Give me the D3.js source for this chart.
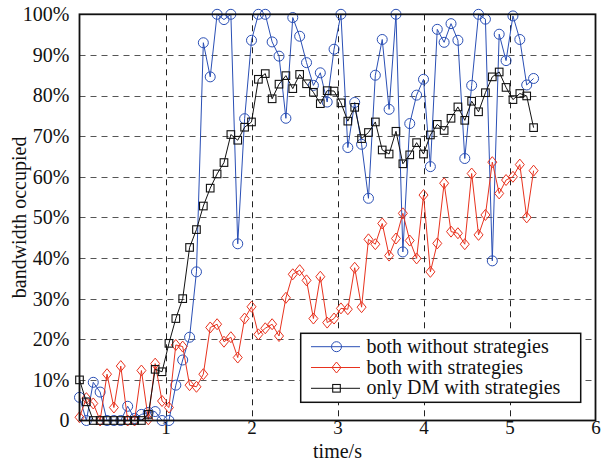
<!DOCTYPE html>
<html>
<head>
<meta charset="utf-8">
<script src="https://cdn.jsdelivr.net/npm/d3@7"></script>
<style>
  html, body { margin: 0; padding: 0; background: #fff; }
</style>
</head>
<body>
<svg id="chart" width="601" height="461"></svg>
<script>
const times = [0,0.08,0.16,0.24,0.32,0.40,0.48,0.56,0.64,0.72,0.80,0.88,0.96,1.04,1.12,1.20,1.28,1.36,1.44,1.52,1.60,1.68,1.76,1.84,1.92,2.00,2.08,2.16,2.24,2.32,2.40,2.48,2.56,2.64,2.72,2.80,2.88,2.96,3.04,3.12,3.20,3.28,3.36,3.44,3.52,3.60,3.68,3.76,3.84,3.92,4.00,4.08,4.16,4.24,4.32,4.40,4.48,4.56,4.64,4.72,4.80,4.88,4.96,5.04,5.12,5.20,5.28];

const bothWithout = [5.7,0,9.4,7.0,0,0,0,3.5,0.5,1.5,2.0,2.2,0,0,8.7,14.9,20.5,36.6,
  93.0,84.6,100,98.7,100,43.5,74.3,93.6,100,100,93.2,89.7,74.4,99.2,94.6,88.1,
  82.5,85.6,78.4,91.4,100,67.2,78.3,68.0,54.7,85.0,93.8,76.6,100,41.5,73.1,80.1,84.0,
  62.5,96.3,93.1,97.7,93.6,64.5,82.5,100,98.8,39.3,95.1,88.6,99.6,93.8,82.6,84.2];

const bothWith = [0.8,5.5,4.2,0,11.4,3.2,13.4,0,0,12.3,0.3,14.0,4.8,3.2,18.6,18.2,8.7,8.3,
  11.4,22.9,23.7,19.4,20.5,15.5,25.1,28.0,21.2,22.7,23.7,20.8,30.2,36.0,37.0,34.5,
  25.1,35.4,24.1,25.1,27.6,27.4,37.6,27.9,44.6,43.4,48.5,40.6,44.8,51.0,44.3,39.9,55.5,
  36.6,43.6,58.4,46.5,46.1,43.4,60.8,45.7,50.6,63.6,55.9,59.2,60.0,63.0,50.0,61.5];

const onlyDM = [10,4.6,0,0,0,0,0,0,0,0,1.5,12.6,12.0,19.0,25.1,30.0,42.6,47.0,
  52.8,57.2,60.7,63.5,70.4,69.0,72.2,73.5,84.0,85.4,79.2,82.8,84.9,81.7,85.2,82.9,
  80.8,78.0,81.2,81.1,78.2,73.7,77.1,69.4,70.9,73.5,66.6,65.6,71.2,63.2,65.4,68.4,65.6,
  70.3,72.9,71.4,74.4,77.2,73.9,78.6,76.0,80.7,84.6,85.8,82.0,79.0,80.5,79.9,72.1];

const xTicks = [1,2,3,4,5,6];
const yTicks = [0,10,20,30,40,50,60,70,80,90,100];
const seriesNames = ["both without strategies","both with strategies","only DM with strategies"];
const seriesColors = ["#2a4fb5","#e8321e","#111111"];
const seriesMarkers = ["circle","diamond","square"];

const FONT = "'Liberation Serif', 'DejaVu Serif', 'Times New Roman', serif";
const svg = d3.select("#chart");
const pLeft = 79.5, pRight = 595.5, pTop = 14.3, pBottom = 420.5;

const x = d3.scaleLinear().domain([0,6]).range([pLeft,pRight]);
const y = d3.scaleLinear().domain([0,100]).range([pBottom,pTop]);

// grid
const grid = svg.append("g");
grid.selectAll("line.h").data(yTicks.filter(d => d > 0 && d < 100)).enter().append("line")
  .attr("x1", pLeft).attr("x2", pRight)
  .attr("y1", d => Math.round(y(d)) + 0.5).attr("y2", d => Math.round(y(d)) + 0.5)
  .attr("stroke", "#555").attr("stroke-width", 1).attr("stroke-dasharray", "6,5");
grid.selectAll("line.v").data(xTicks.filter(d => d < 6)).enter().append("line")
  .attr("y1", pTop).attr("y2", pBottom)
  .attr("x1", d => Math.round(x(d)) + 0.5).attr("x2", d => Math.round(x(d)) + 0.5)
  .attr("stroke", "#222").attr("stroke-width", 1).attr("stroke-dasharray", "6,5");

// axes (labels only)
const xAxis = d3.axisBottom(x).tickValues(xTicks).tickSize(0).tickPadding(0).tickFormat(d3.format("d"));
const gx = svg.append("g").attr("transform", `translate(0,${pBottom})`).call(xAxis);
gx.select(".domain").remove();
gx.selectAll("text").style("font-size", "19px").style("font-family", FONT).attr("fill", "#111");

const yAxis = d3.axisLeft(y).tickValues(yTicks).tickSize(0).tickPadding(10)
  .tickFormat(d => d === 0 ? "0" : d + "%");
const gy = svg.append("g").attr("transform", `translate(${pLeft},0)`).call(yAxis);
gy.select(".domain").remove();
gy.selectAll("text").style("font-size", "20px").style("font-family", FONT).attr("fill", "#111");

// series
const seriesData = [bothWithout, bothWith, onlyDM];
function drawMarker(g, type, cx, cy, color) {
  if (type === "circle") {
    g.append("circle").attr("cx", cx).attr("cy", cy).attr("r", 5)
      .attr("fill", "none").attr("stroke", color).attr("stroke-width", 1);
  } else if (type === "diamond") {
    g.append("path").attr("d", `M${cx},${cy-5.5}L${cx+4.5},${cy}L${cx},${cy+5.5}L${cx-4.5},${cy}Z`)
      .attr("fill", "none").attr("stroke", color).attr("stroke-width", 1);
  } else {
    g.append("rect").attr("x", cx-3.8).attr("y", cy-3.8).attr("width", 7.6).attr("height", 7.6)
      .attr("fill", "none").attr("stroke", color).attr("stroke-width", 1.1);
  }
}
const line = d3.line().x(d => x(d[0])).y(d => y(d[1]));
seriesData.forEach((vals, k) => {
  const pts = times.map((t, i) => [t, vals[i]]);
  const g = svg.append("g");
  g.append("path").attr("d", line(pts)).attr("fill", "none")
    .attr("stroke", seriesColors[k]).attr("stroke-width", 1);
  pts.forEach(p => drawMarker(g, seriesMarkers[k], x(p[0]), y(p[1]), seriesColors[k]));
});

// frame
svg.append("rect").attr("x", pLeft).attr("y", pTop).attr("width", pRight-pLeft).attr("height", pBottom-pTop)
  .attr("fill", "none").attr("stroke", "#111").attr("stroke-width", 1.8);

// axis labels
svg.append("text").attr("x", (pLeft+pRight)/2).attr("y", 457.5).attr("text-anchor", "middle")
  .style("font-size", "20px").style("font-family", FONT).attr("fill", "#111").text("time/s");
svg.append("text").attr("transform", `translate(26,${(pTop+pBottom)/2}) rotate(-90)`)
  .attr("text-anchor", "middle").style("font-size", "20px").style("font-family", FONT)
  .attr("fill", "#111").text("bandwidth occupied");

// legend
const lg = svg.append("g");
lg.append("rect").attr("x", 300.7).attr("y", 333.3).attr("width", 280).attr("height", 69)
  .attr("fill", "#fff").attr("stroke", "#111").attr("stroke-width", 1.5);
const rowsY = [346.7, 367.5, 388.3];
seriesNames.forEach((name, k) => {
  lg.append("line").attr("x1", 311).attr("x2", 360).attr("y1", rowsY[k]).attr("y2", rowsY[k])
    .attr("stroke", seriesColors[k]).attr("stroke-width", 1);
  drawMarker(lg, seriesMarkers[k], 336.5, rowsY[k], seriesColors[k]);
  lg.append("text").attr("x", 366.5).attr("y", rowsY[k]).attr("dy", "0.3em")
    .style("font-size", "20px").style("font-family", FONT).attr("fill", "#111").text(name);
});
</script>
</body>
</html>
